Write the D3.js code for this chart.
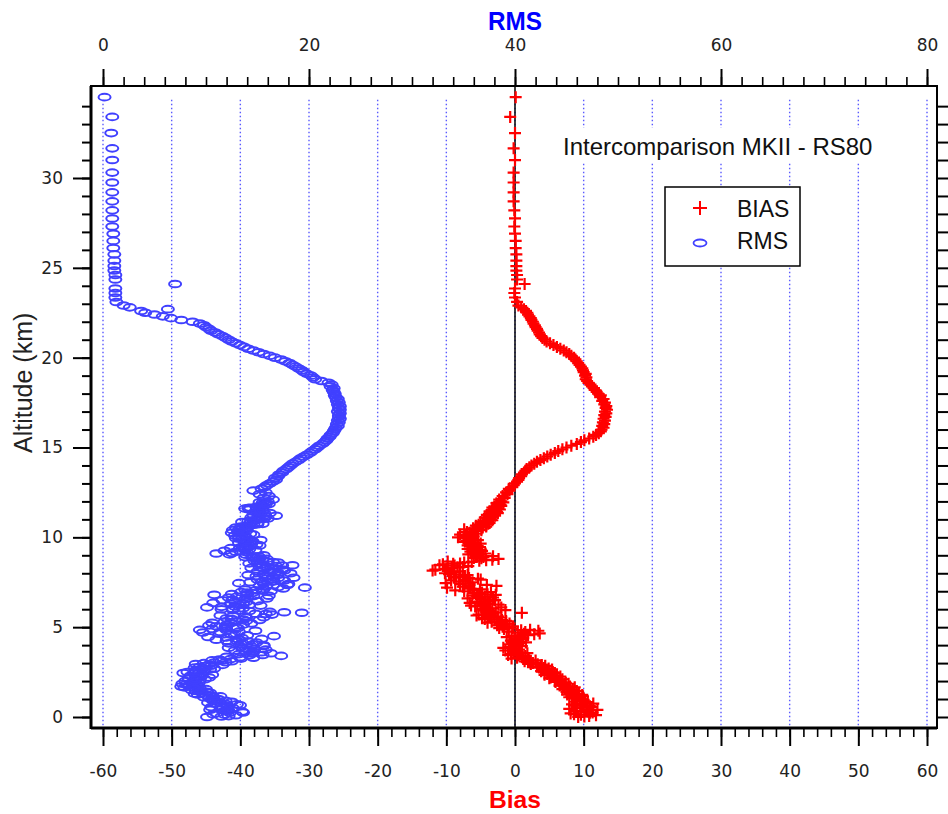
<!DOCTYPE html>
<html><head><meta charset="utf-8">
<script src="https://cdn.jsdelivr.net/npm/d3@7"></script>
<style>body{margin:0;background:#fff;} svg{display:block;}</style>
</head><body><svg id="c" width="948" height="814"></svg>
<script>
// ---------- data ----------
// main sounding levels (km)
const altitude = [
0.0,0.1,0.2,0.3,0.4,0.5,0.6,0.7,0.8,0.9,
1.0,1.1,1.2,1.3,1.4,1.5,1.6,1.7,1.8,1.9,
2.0,2.1,2.2,2.3,2.4,2.5,2.6,2.7,2.8,2.9,
3.0,3.1,3.2,3.3,3.4,3.5,3.6,3.7,3.8,3.9,
4.0,4.1,4.2,4.3,4.4,4.5,4.6,4.7,4.8,4.9,
5.0,5.1,5.2,5.3,5.4,5.5,5.6,5.7,5.8,5.9,
6.0,6.1,6.2,6.3,6.4,6.5,6.6,6.7,6.8,6.9,
7.0,7.1,7.2,7.3,7.4,7.5,7.6,7.7,7.8,7.9,
8.0,8.1,8.2,8.3,8.4,8.5,8.6,8.7,8.8,8.9,
9.0,9.1,9.2,9.3,9.4,9.5,9.6,9.7,9.8,9.9,
10.0,10.1,10.2,10.3,10.4,10.5,10.6,10.7,10.8,10.9,
11.0,11.1,11.2,11.3,11.4,11.5,11.6,11.7,11.8,11.9,
12.0,12.1,12.2,12.3,12.4,12.5,12.6,12.7,12.8,12.9,
13.0,13.1,13.2,13.3,13.4,13.5,13.6,13.7,13.8,13.9,
14.0,14.1,14.2,14.3,14.4,14.5,14.6,14.7,14.8,14.9,
15.0,15.1,15.2,15.3,15.4,15.5,15.6,15.7,15.8,15.9,
16.0,16.1,16.2,16.3,16.4,16.5,16.6,16.7,16.8,16.9,
17.0,17.1,17.2,17.3,17.4,17.5,17.6,17.7,17.8,17.9,
18.0,18.1,18.2,18.3,18.4,18.5,18.6,18.7,18.8,18.9,
19.0,19.1,19.2,19.3,19.4,19.5,19.6,19.7,19.8,19.9,
20.0,20.1,20.2,20.3,20.4,20.5,20.6,20.7,20.8,20.9,
21.0,21.1,21.2,21.3,21.4,21.5,21.6,21.7,21.8,21.9,
22.0,22.1,22.2,22.3,22.4,22.5,22.6,22.7,22.8,22.9,
23.1,23.35,23.6,23.85,24.1,24.35,24.6,24.85,25.1,25.4,
25.75,26.1,26.5,26.9,27.3,27.75,28.2,28.7,29.2,29.75,
30.3,31.0,31.65,32.5,33.4,34.5
];
const bias = [
9.2,11.8,8.1,10.6,12.0,9.0,10.9,8.3,10.2,9.1,
9.6,7.9,8.8,9.3,7.5,8.4,7.2,8.0,6.6,7.4,
5.8,6.9,5.2,6.1,4.7,5.5,4.1,4.9,3.2,3.9,
2.6,1.4,2.0,0.3,1.5,-0.6,0.8,-1.4,0.2,-0.9,
0.5,-0.4,0.9,0.1,1.2,-0.5,2.8,0.4,3.4,-1.6,
-1.1,-2.6,-0.8,-3.4,-1.9,-4.8,-2.5,-5.3,1.0,-3.6,
-4.9,-2.0,-6.4,-3.8,-5.5,-2.9,-6.9,-4.4,-2.8,-6.0,
-7.4,-5.1,-9.9,-2.7,-8.0,-6.2,-9.3,-5.4,-8.6,-6.9,
-10.2,-8.1,-11.6,-9.2,-6.8,-10.5,-7.4,-5.2,-2.4,-4.6,
-5.7,-4.3,-6.5,-5.0,-6.2,-5.4,-6.6,-5.8,-7.0,-6.1,
-8.3,-7.2,-5.6,-7.0,-4.9,-6.1,-4.2,-5.3,-3.7,-4.6,
-3.5,-4.4,-2.9,-3.8,-2.6,-3.4,-2.4,-3.0,-2.1,-2.7,
-2.0,-2.3,-1.5,-1.8,-1.1,-1.3,-0.8,-0.9,-0.4,-0.2,
0.0,0.3,0.5,0.6,0.9,1.0,1.3,1.5,1.7,2.1,
2.4,2.8,3.2,3.7,4.2,4.7,5.2,5.8,6.3,6.9,
7.5,8.2,9.0,9.6,10.1,10.8,11.4,11.8,12.2,12.5,
12.6,12.9,12.7,13.0,12.8,13.1,12.9,13.2,13.0,13.3,
13.1,13.4,13.2,13.3,13.0,13.1,12.7,12.9,12.4,12.5,
12.1,11.9,11.6,11.5,11.2,11.0,10.7,10.5,10.3,10.4,
10.2,10.3,10.0,9.9,9.8,9.6,9.4,9.2,9.0,8.8,
8.6,8.2,7.9,7.5,7.1,6.6,6.1,5.6,5.1,4.6,
4.3,4.0,3.8,3.6,3.5,3.3,3.2,3.0,2.9,2.7,
2.6,2.4,2.3,2.1,1.9,1.8,1.6,1.3,0.9,0.5,
0.3,0.0,-0.1,0.0,1.4,0.3,0.3,0.2,0.2,0.2,
0.2,0.1,0.1,0.0,-0.1,0.0,-0.1,-0.2,-0.2,-0.2,
-0.2,0.0,-0.2,0.0,-0.7,0.1
];
const rms = [
10.1,12.9,11.0,13.5,10.4,12.6,11.5,13.0,10.2,11.9,
11.2,9.8,10.6,8.9,10.1,8.6,9.4,7.6,8.4,9.3,
8.0,9.9,10.3,8.5,9.6,8.2,9.0,10.8,9.4,11.6,
9.8,12.5,11.3,14.6,17.3,13.2,15.4,12.8,14.7,13.4,
15.6,12.2,14.1,11.0,13.5,16.6,12.4,9.7,14.8,10.6,
12.9,10.3,14.4,11.8,15.2,12.0,13.8,16.4,19.3,14.2,
11.5,10.1,15.3,12.4,13.9,11.6,15.9,13.0,10.8,14.5,
16.3,13.8,19.6,15.2,18.0,14.3,17.6,15.8,16.5,14.1,
18.2,15.0,17.4,14.4,16.8,15.5,17.0,14.7,15.9,13.8,
15.6,11.0,12.9,14.8,12.4,13.6,14.9,13.2,14.5,13.5,
13.9,12.8,14.3,13.1,12.6,14.0,13.4,14.6,15.0,14.1,
15.2,14.4,16.8,15.3,14.8,15.5,13.8,14.9,15.4,15.7,
16.0,16.5,15.6,16.1,15.2,15.8,14.6,15.4,15.7,15.9,
16.2,16.5,16.8,16.7,17.0,17.1,17.4,17.5,17.8,18.0,
18.2,18.4,18.7,19.0,19.2,19.5,19.8,20.1,20.3,20.6,
20.8,21.0,21.3,21.5,21.7,21.8,22.0,22.1,22.3,22.4,
22.5,22.6,22.8,22.7,22.9,22.8,23.0,22.9,22.9,23.0,
22.8,23.0,22.9,23.0,22.8,22.9,22.7,22.8,22.6,22.5,
22.5,22.4,22.3,22.4,22.1,22.2,21.9,21.2,20.6,20.4,
20.2,19.8,19.5,19.3,19.0,18.7,18.4,18.1,17.7,17.3,
16.7,16.2,15.6,15.1,14.6,14.1,13.7,13.3,12.9,12.5,
12.2,11.9,11.6,11.2,10.9,10.5,10.3,10.0,9.8,9.4,
8.7,7.6,6.6,5.8,5.0,4.1,3.7,6.3,2.6,2.0,
1.3,1.2,1.2,1.2,7.0,1.2,1.2,1.1,1.1,1.1,
1.1,1.0,1.0,1.0,0.9,0.9,0.9,0.9,0.9,0.9,
0.9,0.9,0.9,0.8,0.9,0.15
];
// intermediate sounding levels in the troposphere (km)
const altitudeFine = [
0.05,0.15,0.25,0.35,0.45,0.55,0.65,0.75,0.85,0.95,
1.05,1.15,1.25,1.35,1.45,1.55,1.65,1.75,1.85,1.95,
2.05,2.15,2.25,2.35,2.45,2.55,2.65,2.75,2.85,2.95,
3.05,3.15,3.25,3.35,3.45,3.55,3.65,3.75,3.85,3.95,
4.05,4.15,4.25,4.35,4.45,4.55,4.65,4.75,4.85,4.95,
5.05,5.15,5.25,5.35,5.45,5.55,5.65,5.75,5.85,5.95,
6.05,6.15,6.25,6.35,6.45,6.55,6.65,6.75,6.85,6.95,
7.05,7.15,7.25,7.35,7.45,7.55,7.65,7.75,7.85,7.95,
8.05,8.15,8.25,8.35,8.45,8.55,8.65,8.75,8.85,8.95,
9.05,9.15,9.25,9.35,9.45,9.55,9.65,9.75,9.85,9.95,
10.05,10.15,10.25,10.35,10.45,10.55,10.65,10.75,10.85,10.95,
11.05,11.15,11.25,11.35,11.45,11.55,11.65,11.75,11.85,11.95
];
const biasFine = [
10.8,8.6,11.3,9.5,7.9,11.1,9.7,11.4,8.8,10.0,
8.3,9.9,7.6,8.6,9.0,6.9,8.7,6.5,7.8,5.9,
6.4,5.0,6.6,4.3,5.8,3.8,5.4,3.5,4.4,2.3,
1.9,3.0,-0.5,1.1,-1.0,1.8,-0.2,0.6,-1.7,1.0,
-0.8,1.6,-0.6,0.7,-1.2,1.9,3.6,-0.9,2.2,-2.3,
-0.3,-1.5,-4.0,-1.3,-4.4,-2.0,-5.6,-3.1,-4.2,-1.4,
-3.3,-5.8,-2.4,-6.6,-3.6,-5.0,-3.2,-6.2,-5.2,-3.5,
-8.7,-6.5,-7.6,-4.1,-10.1,-7.2,-5.0,-8.9,-7.3,-9.6,
-8.9,-12.0,-9.9,-7.6,-11.0,-8.0,-9.8,-3.3,-6.0,-3.2,
-6.8,-5.3,-4.8,-6.9,-5.1,-6.9,-5.0,-7.3,-5.4,-7.5,
-6.0,-8.0,-6.6,-5.5,-7.4,-4.7,-5.7,-3.9,-5.0,-3.3,
-4.0,-3.2,-4.1,-2.5,-3.7,-2.2,-3.3,-2.0,-2.5,-1.7
];
const rmsFine = [
12.2,10.7,13.6,11.8,12.1,10.5,13.3,11.0,12.5,10.6,
10.3,11.4,9.2,10.4,9.0,10.0,7.9,9.1,7.7,8.7,
9.4,8.3,9.0,10.6,7.8,9.8,10.4,8.9,10.5,9.0,
11.9,10.6,13.4,12.0,15.5,16.3,13.9,15.8,12.2,15.6,
13.4,14.9,12.0,15.4,10.2,14.0,11.3,13.2,9.4,13.1,
11.0,13.6,10.6,13.9,12.5,15.6,11.4,14.8,16.2,12.6,
13.6,12.8,14.2,10.7,15.0,13.8,12.2,16.1,12.5,13.4,
14.8,17.5,15.8,17.9,13.2,16.6,15.0,18.5,14.9,17.0,
16.1,17.6,15.6,16.0,18.4,14.2,16.0,15.5,14.6,15.1,
12.3,14.0,11.8,13.7,14.1,15.2,13.8,14.4,15.3,12.9,
13.2,14.6,12.5,13.9,13.8,12.9,14.2,15.5,13.5,14.7,
16.0,15.8,14.6,16.2,15.1,14.2,14.3,15.6,16.1,15.2
];
// further tropospheric levels (km)
const altitudeFine2 = [
0.03,0.13,0.23,0.33,0.43,0.53,0.63,0.73,0.83,0.93,
1.03,1.13,1.23,1.33,1.43,1.53,1.63,1.73,1.83,1.93,
2.03,2.13,2.23,2.33,2.43,2.53,2.63,2.73,2.83,2.93,
3.03,3.13,3.23,3.33,3.43,3.53,3.63,3.73,3.83,3.93,
4.03,4.13,4.23,4.33,4.43,4.53,4.63,4.73,4.83,4.93,
5.03,5.13,5.23,5.33,5.43,5.53,5.63,5.73,5.83,5.93,
6.03,6.13,6.23,6.33,6.43,6.53,6.63,6.73,6.83,6.93,
7.03,7.13,7.23,7.33,7.43,7.53,7.63,7.73,7.83,7.93,
8.03,8.13,8.23,8.33,8.43,8.53,8.63,8.73,8.83,8.93,
9.03,9.13,9.23,9.33,9.43,9.53,9.63,9.73,9.83,9.93,
10.03,10.13,10.23,10.33,10.43,10.53,10.63,10.73,10.83,10.93,
11.03,11.13,11.23,11.33,11.43,11.53,11.63,11.73,11.83,11.93
];
const biasFine2 = [
10.1,9.6,10.9,8.9,10.5,9.9,8.6,9.7,10.6,9.5,
8.9,8.5,9.8,8.1,8.2,7.8,7.6,7.1,7.2,6.8,
6.2,6.0,5.7,5.4,5.2,4.8,4.6,4.2,3.8,3.3,
2.2,2.3,1.2,1.0,0.5,0.4,0.2,-0.3,-0.5,0.0,
0.0,0.6,0.3,-0.1,0.6,0.9,1.3,1.5,0.9,-0.4,
-1.8,-2.0,-2.2,-2.6,-3.0,-3.5,-3.8,-4.0,-2.8,-4.6,
-4.1,-4.3,-4.6,-5.0,-4.3,-4.0,-5.2,-5.5,-4.0,-4.8,
-6.0,-6.0,-6.8,-6.6,-6.6,-8.2,-7.2,-6.7,-7.6,-8.0,
-9.4,-9.8,-10.2,-8.4,-8.8,-9.0,-6.3,-4.2,-4.9,-5.5,
-5.0,-5.9,-5.6,-5.9,-5.7,-6.0,-5.8,-6.5,-6.2,-6.7,
-7.0,-6.3,-6.1,-6.2,-5.8,-5.4,-4.9,-4.6,-4.3,-4.0,
-3.9,-3.7,-3.5,-3.2,-3.1,-2.8,-2.8,-2.5,-2.4,-2.3
];
const rmsFine2 = [
11.5,11.8,12.3,12.2,11.4,11.6,12.1,11.9,11.2,10.9,
10.6,10.7,10.0,9.6,9.5,9.3,8.8,8.3,8.1,8.9,
8.9,9.1,9.5,9.6,8.8,9.0,9.8,9.7,9.9,10.3,
10.8,11.5,12.4,13.3,14.2,14.5,14.6,14.2,13.6,14.4,
14.5,13.5,13.0,13.2,12.0,12.8,12.4,11.4,12.0,11.9,
11.9,12.0,12.4,12.9,13.6,13.9,12.6,15.8,17.6,13.2,
12.6,11.5,13.3,13.6,12.8,12.6,14.0,14.6,14.0,14.0,
15.5,15.6,17.0,16.5,15.6,15.5,16.3,17.0,15.8,15.6,
17.0,16.4,16.5,15.2,17.4,15.0,16.5,15.1,15.2,14.5,
13.9,12.5,13.4,14.2,13.3,14.3,14.4,13.8,14.0,13.2,
13.5,13.7,13.4,13.5,13.2,13.4,13.8,15.0,14.3,14.4,
15.6,15.1,15.7,15.7,15.0,14.9,14.1,15.3,15.8,15.5
];
const biasTicks = [-60,-50,-40,-30,-20,-10,0,10,20,30,40,50,60];
const rmsTicks = [0,20,40,60,80];
const altTicks = [0,5,10,15,20,25,30];
const seriesNames = ["BIAS","RMS"];
const chartTitle = "Intercomparison MKII - RS80";
const xTitle = "Bias", topTitle = "RMS", yTitle = "Altitude (km)";

// ---------- layout ----------
const frame = {l: 91, r: 937, t: 86, b: 728};
const svg = d3.select("#c");
const x = d3.scaleLinear().domain([-60, 60]).range([103, 927]);
const xr = d3.scaleLinear().domain([0, 80]).range([103, 927]);
const y = d3.scaleLinear().domain([0, 30]).range([717, 178]);
const RED = "#ff0000", BLUE = "#4040ff";
const gridTop = 34.35;

// gridlines
svg.append("g").selectAll("line").data(biasTicks).join("line")
  .attr("x1", d => x(d)).attr("x2", d => x(d))
  .attr("y1", y(gridTop)).attr("y2", frame.b)
  .attr("stroke", "#5a5aff").attr("stroke-width", 1.4)
  .attr("stroke-dasharray", "1.5,2.5");

// title with white background
svg.append("rect").attr("x", 556).attr("y", 128).attr("width", 330).attr("height", 35).attr("fill", "#fff");
svg.append("text").attr("x", 563).attr("y", 155)
  .attr("font-family", "Liberation Sans, Arial, sans-serif").attr("font-size", 24)
  .attr("fill", "#111").text(chartTitle);

// zero line
svg.append("line").attr("x1", x(0)).attr("x2", x(0)).attr("y1", frame.t).attr("y2", frame.b)
  .attr("stroke", "#000").attr("stroke-width", 1.5);

const pts = altitude.map((a, i) => ({a, b: bias[i], r: rms[i]}))
  .concat(altitudeFine.map((a, i) => ({a, b: biasFine[i], r: rmsFine[i]})))
  .concat(altitudeFine2.map((a, i) => ({a, b: biasFine2[i], r: rmsFine2[i]})));

// RMS markers
svg.append("g").selectAll("ellipse").data(pts).join("ellipse")
  .attr("cx", d => xr(d.r)).attr("cy", d => y(d.a))
  .attr("rx", 6).attr("ry", 3.3)
  .attr("fill", "none").attr("stroke", BLUE).attr("stroke-width", 2);

// BIAS markers
svg.append("g").selectAll("path").data(pts).join("path")
  .attr("transform", d => `translate(${x(d.b)},${y(d.a)})`)
  .attr("d", "M-6,0H6M0,-6V6")
  .attr("stroke", RED).attr("stroke-width", 2.2).attr("fill", "none");

// legend
const lg = svg.append("g");
lg.append("rect").attr("x", 665).attr("y", 187).attr("width", 135).attr("height", 79)
  .attr("fill", "#fff").attr("stroke", "#000").attr("stroke-width", 1.5);
lg.append("path").attr("transform", "translate(700,208)").attr("d", "M-7,0H7M0,-7V7")
  .attr("stroke", RED).attr("stroke-width", 2);
lg.append("ellipse").attr("cx", 700).attr("cy", 243).attr("rx", 6.5).attr("ry", 3.5)
  .attr("fill", "none").attr("stroke", BLUE).attr("stroke-width", 1.8);
lg.selectAll("text").data(seriesNames).join("text")
  .attr("x", 737).attr("y", (d, i) => 217 + i * 32)
  .attr("font-family", "Liberation Sans, Arial, sans-serif").attr("font-size", 23)
  .attr("fill", "#111").text(d => d);

// axes
const tickFont = "DejaVu Sans, sans-serif";
function styleAxis(g, w) {
  g.select(".domain").remove();
  g.selectAll(".tick line").attr("stroke", "#000").attr("stroke-width", w);
  g.selectAll(".tick text").attr("font-family", tickFont).attr("font-size", 17).attr("fill", "#222");
}
const fmt = d => String(d);

// bottom
svg.append("g").attr("transform", `translate(0,${frame.b})`)
  .call(d3.axisBottom(x).tickValues(d3.range(-60, 61, 2)).tickSize(9).tickFormat(""))
  .call(g => styleAxis(g, 1.6));
svg.append("g").attr("transform", `translate(0,${frame.b})`)
  .call(d3.axisBottom(x).tickValues(biasTicks).tickSize(18).tickPadding(19).tickFormat(fmt))
  .call(g => styleAxis(g, 2));

// top
svg.append("g").attr("transform", `translate(0,${frame.t})`)
  .call(d3.axisTop(xr).tickValues(d3.range(0, 81, 2)).tickSize(9).tickFormat(""))
  .call(g => styleAxis(g, 1.6));
svg.append("g").attr("transform", `translate(0,${frame.t})`)
  .call(d3.axisTop(xr).tickValues(rmsTicks).tickSize(17).tickPadding(18).tickFormat(fmt))
  .call(g => styleAxis(g, 2));

// left
svg.append("g").attr("transform", `translate(${frame.l},0)`)
  .call(d3.axisLeft(y).tickValues(d3.range(0, 35, 1)).tickSize(9).tickFormat(""))
  .call(g => styleAxis(g, 2));
svg.append("g").attr("transform", `translate(${frame.l},0)`)
  .call(d3.axisLeft(y).tickValues(altTicks).tickSize(18).tickPadding(10).tickFormat(fmt))
  .call(g => styleAxis(g, 2));

// right (ticks only)
svg.append("g").attr("transform", `translate(${frame.r},0)`)
  .call(d3.axisRight(y).tickValues(d3.range(0, 35, 1)).tickSize(14).tickFormat(""))
  .call(g => styleAxis(g, 2));

// frame
svg.append("rect").attr("x", frame.l).attr("y", frame.t)
  .attr("width", frame.r - frame.l).attr("height", frame.b - frame.t)
  .attr("fill", "none").attr("stroke", "#000").attr("stroke-width", 2);
svg.append("line").attr("x1", frame.l).attr("x2", frame.l).attr("y1", frame.t).attr("y2", frame.b + 1)
  .attr("stroke", "#000").attr("stroke-width", 3);
svg.append("line").attr("x1", frame.l).attr("x2", frame.r).attr("y1", frame.b).attr("y2", frame.b)
  .attr("stroke", "#000").attr("stroke-width", 3);

// axis titles
svg.append("text").attr("x", x(0)).attr("y", 808)
  .attr("text-anchor", "middle").attr("font-family", "Liberation Sans, Arial, sans-serif")
  .attr("font-weight", "bold").attr("font-size", 24).attr("fill", RED)
  .attr("textLength", 52).attr("lengthAdjust", "spacingAndGlyphs").text(xTitle);
svg.append("text").attr("x", xr(40)).attr("y", 30)
  .attr("text-anchor", "middle").attr("font-family", "Liberation Sans, Arial, sans-serif")
  .attr("font-weight", "bold").attr("font-size", 25).attr("fill", "#0000ff")
  .attr("textLength", 54).attr("lengthAdjust", "spacingAndGlyphs").text(topTitle);
svg.append("text").attr("transform", `translate(32,${y(18.6)}) rotate(-90)`)
  .attr("text-anchor", "middle").attr("font-family", "Liberation Sans, Arial, sans-serif")
  .attr("font-size", 25).attr("fill", "#222").text(yTitle);
</script>
</body></html>
